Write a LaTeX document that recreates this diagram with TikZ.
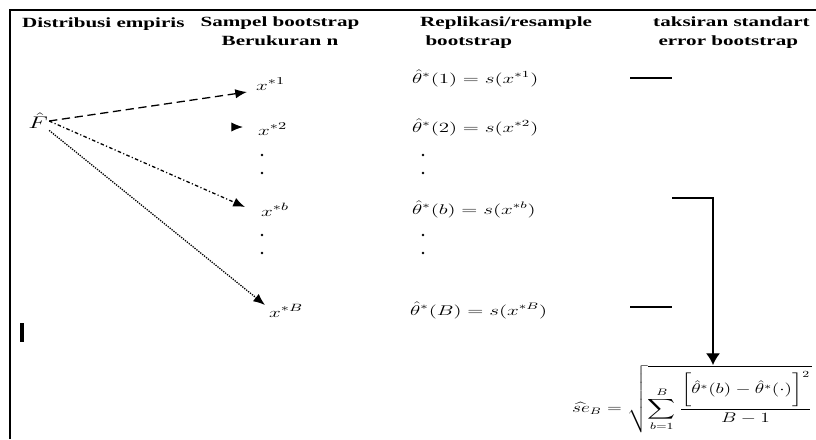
\documentclass[tikz,border=0pt]{standalone}
\usepackage{fontspec}
\setmainfont{Liberation Serif}
\usepackage{amsmath}
\usepackage{graphicx}
\usepackage{tikz}
\usetikzlibrary{arrows.meta}
\newcommand{\sx}[1]{\scalebox{1.5}[1]{#1}}
\tikzset{
  hdr/.style={font=\fontsize{12}{16}\selectfont\bfseries, inner sep=0pt},
  smp/.style={font=\fontsize{13}{15}\selectfont, inner sep=0pt, anchor=base west},
  rep/.style={font=\fontsize{12}{14}\selectfont, inner sep=0pt, anchor=base west},
  arrow/.style={-{Latex[length=10pt,width=8pt]}, line width=1.1pt},
  downarrow/.style={-{Latex[length=10pt,width=12pt]}, line width=1.1pt},
  line/.style={line width=1.1pt},
  longdash/.style={dash pattern=on 7pt off 4pt},
  dashdot/.style={dash pattern=on 3pt off 2pt on 1pt off 2pt},
  frame/.style={line width=1.6pt}
}

\begin{document}
\begin{tikzpicture}[x=0.03cm, y=-0.03cm]
  \useasboundingbox (0,0) rectangle (816,439);
  \draw[frame] (10,439) -- (10,10) -- (816,10);

  % column headings
  \node[hdr, anchor=base west] (hdemp) at (22,27) {\sx{Distribusi empiris}};
  \node[hdr, anchor=north, align=center] (hdsmp) at (280,17) {\sx{Sampel bootstrap}\\\sx{Berukuran n}};
  \node[hdr, anchor=north west, align=left] (hdrep) at (420,17) {\sx{Replikasi/resample}\\\sx{\ bootstrap}};
  \node[hdr, anchor=north west, align=left] (hdse) at (653,17) {\sx{taksiran standart}\\\sx{\ error bootstrap}};

  % empirical distribution
  \node[inner sep=1pt, font=\fontsize{15}{17}\selectfont] (Fhat) at (38,121) {\sx{$\hat{F}$}};

  % bootstrap samples
  \node[smp] (x1) at (256,90) {\sx{$x^{*1}$}};
  \node[smp] (x2) at (258,135) {\sx{$x^{*2}$}};
  \node[smp] (xb) at (261,216) {\sx{$x^{*b}$}};
  \node[smp] (xB) at (269,317) {\sx{$x^{*B}$}};
  \coordinate (t1) at (247,92);
  \coordinate (s2) at (234,127);
  \coordinate (t2) at (243,127);
  \coordinate (tb) at (245,207);
  \coordinate (tB) at (265,305);

  \draw[arrow, longdash] (Fhat.east) -- (t1);
  \draw[arrow] (s2) -- (t2);
  \draw[arrow, dashdot] (Fhat.east) -- (tb);
  \draw[arrow, densely dotted] (Fhat.south east) -- (tB);

  % vertical dots
  \foreach \y in {155,173,235,253} {
    \fill (262,\y) circle (1.1pt);
    \fill (423,\y) circle (1.1pt);
  }

  % bootstrap replications
  \node[rep] (th1) at (412,83) {\sx{$\hat{\theta}^{*}(1)=s(x^{*1})$}};
  \node[rep] (th2) at (412,132) {\sx{$\hat{\theta}^{*}(2)=s(x^{*2})$}};
  \node[rep] (thb) at (412,214) {\sx{$\hat{\theta}^{*}(b)=s(x^{*b})$}};
  \node[rep] (thB) at (410,315) {\sx{$\hat{\theta}^{*}(B)=s(x^{*B})$}};

  % standard error estimate
  \node[anchor=north west, inner sep=0pt, font=\fontsize{12}{14}\selectfont] (se) at (572,365)
    {\scalebox{1.38}[1]{$\displaystyle\widehat{se}_B=\sqrt{\sum_{b=1}^{B}\frac{\biggl[\hat{\theta}^{*}(b)-\hat{\theta}^{*}(\cdot)\biggr]^2}{B-1}}$}};

  \coordinate (e1) at (630,78);
  \coordinate (eb) at (672,198);
  \coordinate (kb) at (713,198);
  \coordinate (eB) at (630,307);
  \draw[line] (e1) -- ++(42,0);
  \draw[line] (eB) -- ++(42,0);
  \draw[downarrow] (eb) -- (kb) -- (kb |- se.north);

  \draw[line width=3pt] (22,323) -- (22,342);
\end{tikzpicture}
\end{document}
